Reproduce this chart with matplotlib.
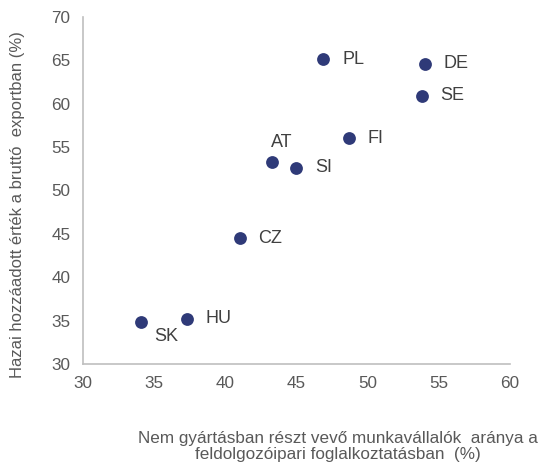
import matplotlib.pyplot as plt

plt.rcParams['font.family'] = ['Liberation Sans', 'DejaVu Sans']

# Adatok (orszagok)
orszagok = ['PL', 'DE', 'SE', 'FI', 'AT', 'SI', 'CZ', 'HU', 'SK']
nem_gyartas = [46.9, 54.0, 53.8, 48.7, 43.3, 45.0, 41.0, 37.3, 34.1]
hazai_ertek = [65.1, 64.6, 60.9, 56.0, 53.3, 52.6, 44.5, 35.2, 34.8]

# cimke eltolasok pontban (x, y, vizszintes igazitas)
eltolas = {'AT': (7, 14, 'center'), 'SK': (18, -10, 'center')}

szurke = '#595959'
fig = plt.figure(figsize=(5.39, 4.66), dpi=100)
ax = fig.add_axes([0.154, 0.219, 0.792, 0.745])

ax.scatter(nem_gyartas, hazai_ertek, s=85, color='#2F3A78', zorder=3,
           linewidths=0)

for nev, x, y in zip(orszagok, nem_gyartas, hazai_ertek):
    dx, dy, ha = eltolas.get(nev, (13.5, 0, 'left'))
    ax.annotate(nev, (x, y), xytext=(dx, dy), textcoords='offset points',
                ha=ha, va='center', fontsize=13, color='#404040')

ax.set_xlim(30, 60)
ax.set_ylim(30, 70)
ax.set_xticks(range(30, 61, 5))
ax.set_yticks(range(30, 71, 5))
ax.tick_params(length=0, labelsize=12.3, labelcolor=szurke, pad=9)

for s in ['top', 'right']:
    ax.spines[s].set_visible(False)
for s in ['left', 'bottom']:
    ax.spines[s].set_color('#BFBFBF')
    ax.spines[s].set_linewidth(1.2)

fig.text(18 / 539, 0.56, 'Hazai hozzáadott érték a bruttó  exportban (%)',
         rotation=90, ha='center', va='center', fontsize=12, color=szurke)
fig.text(338 / 539, 0.042,
         'Nem gyártásban részt vevő munkavállalók  aránya a\n'
         'feldolgozóipari foglalkoztatásban  (%)',
         ha='center', va='center', fontsize=12.3, color=szurke,
         linespacing=1.15)

fig.savefig('out.png', dpi=100)
